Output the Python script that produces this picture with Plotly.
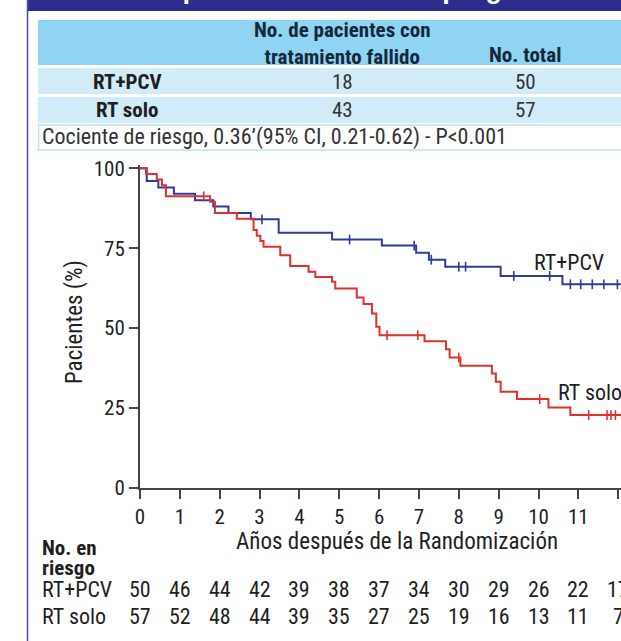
import plotly.graph_objects as go

# ---------------- data ----------------
years = list(range(13))
year_labels = [str(y) for y in years]

pcv_times = [0, 0.17, 0.46, 0.85, 1.38, 1.84, 2.22, 2.78, 3.48, 4.82, 6.07, 6.93, 7.25, 7.66, 9.05, 10.6, 12.1]
pcv_surv  = [100, 96, 94, 92, 90, 88, 86, 84, 79.8, 77.7, 75.8, 73.6, 71.4, 69.2, 66.3, 63.7, 63.7]
pcv_censor = [3.06, 5.26, 6.88, 7.31, 8.0, 8.17, 9.38, 10.28, 10.8, 11.06, 11.35, 11.64, 11.98]

solo_times = [0, 0.15, 0.42, 0.55, 0.65, 1.76, 1.88, 2.43, 2.85, 2.93, 3.02, 3.1, 3.52, 3.77, 4.23, 4.4,
              4.82, 4.9, 5.44, 5.61, 5.82, 5.93, 6.01, 7.14, 7.68, 7.77, 8.04, 8.83, 8.93, 9.05, 9.46,
              10.25, 10.8, 12.1]
solo_surv  = [100, 98.2, 96.5, 94.7, 91.2, 89.5, 86, 84.2, 80.7, 78.9, 77.2, 75.4, 72.8, 69.4, 67.6, 66,
              64.5, 62.4, 59.6, 57.5, 54.6, 50.4, 47.8, 45.9, 43.4, 40.8, 38.2, 35.8, 33.2, 30.1, 27.8,
              25.2, 22.8, 22.8]
solo_censor = [1.6, 6.2, 6.97, 8.0, 10.03, 11.26, 11.72, 11.82, 11.93]

risk_pcv  = [50, 46, 44, 42, 39, 38, 37, 34, 30, 29, 26, 22, 17]
risk_solo = [57, 52, 48, 44, 39, 35, 27, 25, 19, 16, 13, 11, 7]

table_groups = ["RT+PCV", "RT solo"]
table_failed = [18, 43]
table_total = [50, 57]
table_head_failed = "No. de pacientes con<br>tratamiento fallido"
table_head_total = "No. total"
hazard_text = "Cociente de riesgo, 0.36’(95% CI, 0.21-0.62) - P<0.001"
title_text = "Supervivencia libre de progresión"

# ---------------- styling / geometry ----------------
W, H = 621, 641
L, R, T, B = 140, 621, 165, 488
BLUE = "#2f3c9c"
RED = "#e2302a"
NAVY = "#2e2d8c"
TXT = "#1f1f1f"
FONT = "Roboto Condensed, Liberation Sans Narrow, sans-serif"


def px(xp):
    return (xp - L) / (R - L)


def py(yp):
    return (B - yp) / (B - T)


def step_at(times, surv, t):
    v = surv[0]
    for ti, si in zip(times, surv):
        if ti <= t:
            v = si
    return v


fig = go.Figure()

fig.add_trace(go.Scatter(x=pcv_times, y=pcv_surv, mode="lines", line=dict(color=BLUE, width=2, shape="hv"),
                         showlegend=False, hoverinfo="skip"))
fig.add_trace(go.Scatter(x=solo_times, y=solo_surv, mode="lines", line=dict(color=RED, width=2, shape="hv"),
                         showlegend=False, hoverinfo="skip"))
fig.add_trace(go.Scatter(x=pcv_censor, y=[step_at(pcv_times, pcv_surv, t) for t in pcv_censor], mode="markers",
                         marker=dict(symbol="line-ns-open", size=7, color=BLUE, line=dict(color=BLUE, width=1.6)),
                         showlegend=False, hoverinfo="skip", cliponaxis=False))
fig.add_trace(go.Scatter(x=solo_censor, y=[step_at(solo_times, solo_surv, t) for t in solo_censor], mode="markers",
                         marker=dict(symbol="line-ns-open", size=7, color=RED, line=dict(color=RED, width=1.6)),
                         showlegend=False, hoverinfo="skip", cliponaxis=False))

shapes = []
# top navy bar and left frame line
shapes.append(dict(type="rect", xref="paper", yref="paper", x0=px(27), x1=px(622), y0=py(11), y1=py(-2),
                   fillcolor=NAVY, line=dict(width=0), layer="below"))
shapes.append(dict(type="line", xref="paper", yref="paper", x0=px(27.5), x1=px(27.5), y0=py(641), y1=py(0),
                   line=dict(color="#4d4aa8", width=1.5)))
# table bands
shapes.append(dict(type="rect", xref="paper", yref="paper", x0=px(38), x1=px(622), y0=py(65), y1=py(20),
                   fillcolor="#8fd4f2", line=dict(width=0), layer="below"))
for top, bot in [(68, 94), (97, 123)]:
    shapes.append(dict(type="rect", xref="paper", yref="paper", x0=px(38), x1=px(622), y0=py(bot), y1=py(top),
                       fillcolor="#d2ebf8", line=dict(width=0), layer="below"))
shapes.append(dict(type="rect", xref="paper", yref="paper", x0=px(38.5), x1=px(622), y0=py(150), y1=py(125),
                   fillcolor="white", line=dict(color="#bfe2f3", width=1.5), layer="below"))

ann = []


def A(text, xp, yp, size=21, bold=False, color=TXT, xanchor="center", yanchor="middle", xref="paper", x=None, **kw):
    ann.append(dict(text=f"<b>{text}</b>" if bold else text, x=(px(xp) if x is None else x), y=py(yp),
                    xref=xref, yref="paper", showarrow=False, xanchor=xanchor, yanchor=yanchor,
                    font=dict(family=FONT, size=size, color=color), **kw))


# title (mostly cut off above the frame)
ann.append(dict(text=f"<b>{title_text}</b>", x=px(365), y=py(6), xref="paper", yref="paper", showarrow=False,
                xanchor="center", yanchor="bottom",
                font=dict(family="Liberation Sans, Arial, sans-serif", size=27, color="white")))

# table
A(table_head_failed, 342, 43, size=21, bold=True, color="#14283c")
A(table_head_total, 525, 55, size=21, bold=True, color="#14283c")
for i, (g, f, t) in enumerate(zip(table_groups, table_failed, table_total)):
    yc = [82, 110][i]
    A(g, 127, yc, size=21, bold=True)
    A(str(f), 342, yc, size=21, color="#333")
    A(str(t), 525, yc, size=21, color="#333")
A(hazard_text, 40, 137, size=22, color="#333", xanchor="left")

# curve labels
A("RT+PCV", 569, 262, size=22)
A("RT solo", 556, 392, size=22, xanchor="left")

# axis titles
A("Pacientes (%)", 74, 322, size=23, textangle=-90)
A("Años después de la Randomización", 397, 541, size=23)

# number at risk
A("No. en", 40, 548, size=21, bold=True, xanchor="left")
A("riesgo", 40, 568, size=21, bold=True, xanchor="left")
A("RT+PCV", 40, 589, size=22, xanchor="left")
A("RT solo", 40, 616, size=22, xanchor="left")
for yr, a, b in zip(years, risk_pcv, risk_solo):
    A(str(a), 0, 589, size=22, xref="x", x=yr)
    A(str(b), 0, 616, size=22, xref="x", x=yr)

fig.update_layout(
    width=W, height=H,
    margin=dict(l=L, r=W - R, t=T, b=H - B, pad=0),
    paper_bgcolor="white", plot_bgcolor="white",
    shapes=shapes, annotations=ann,
    font=dict(family=FONT, color=TXT),
)
fig.update_xaxes(range=[0, (R - L) / 39.85], tickvals=years, ticktext=year_labels, showgrid=False, zeroline=False,
                 showline=True, linecolor="#444", linewidth=2, ticks="outside", ticklen=9, tickwidth=2,
                 tickcolor="#444", tickfont=dict(family=FONT, size=21, color=TXT))
fig.update_yaxes(range=[0, 101], tickvals=[0, 25, 50, 75, 100], showgrid=False, zeroline=False,
                 showline=True, linecolor="#444", linewidth=2, ticks="outside", ticklen=9, tickwidth=2,
                 tickcolor="#444", tickfont=dict(family=FONT, size=21, color=TXT))

fig.write_html("out.html", config={"displayModeBar": False},
               post_script="document.body.style.margin='0';")
